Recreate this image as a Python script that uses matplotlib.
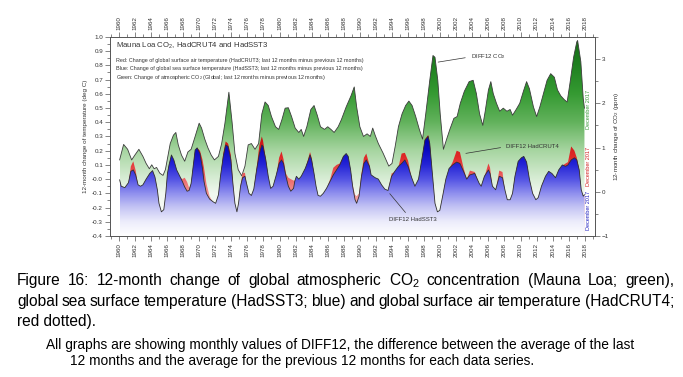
import numpy as np
import matplotlib
matplotlib.use('Agg')
import matplotlib.pyplot as plt
from matplotlib.colors import LinearSegmentedColormap
from matplotlib.ticker import MultipleLocator

plt.rcParams['font.family'] = ['Liberation Sans', 'DejaVu Sans']
plt.rcParams['mathtext.fontset'] = 'custom'
plt.rcParams['mathtext.rm'] = 'Liberation Sans'
plt.rcParams['mathtext.it'] = 'Liberation Sans:italic'

# DIFF12 CO2 (ppm, right axis)
co2_years = [1960.1, 1960.6, 1961.1, 1961.6, 1962.0, 1962.5, 1963.0, 1963.4, 1963.8, 1964.1,
             1964.4, 1964.7, 1965.1, 1965.5, 1965.8, 1966.1, 1966.4, 1966.8, 1967.1, 1967.4,
             1967.8, 1968.2, 1968.6, 1969.0, 1969.5, 1970.0, 1970.3, 1970.7, 1971.1, 1971.5,
             1971.9, 1972.4, 1972.8, 1973.2, 1973.7, 1974.1, 1974.45, 1974.86, 1975.3, 1975.7,
             1976.1, 1976.5, 1976.95, 1977.4, 1977.8, 1978.2, 1978.6, 1979.0, 1979.5, 1979.9,
             1980.3, 1980.7, 1981.1, 1981.5, 1981.95, 1982.4, 1982.7, 1983.0, 1983.4, 1983.9,
             1984.3, 1984.7, 1985.1, 1985.6, 1986.0, 1986.4, 1986.8, 1987.3, 1987.7, 1988.3,
             1988.9, 1989.3, 1989.6, 1990.0, 1990.45, 1990.9, 1991.3, 1991.6, 1991.9, 1992.3,
             1992.9, 1993.6, 1994.0, 1994.4, 1994.8, 1995.25, 1995.7, 1996.1, 1996.5, 1996.95,
             1997.4, 1997.8, 1998.2, 1998.7, 1999.1, 1999.35, 1999.7, 2000.0, 2000.4, 2000.8,
             2001.2, 2001.7, 2002.1, 2002.5, 2003.0, 2003.6, 2004.1, 2004.5, 2004.9, 2005.3,
             2005.6, 2006.0, 2006.3, 2006.6, 2007.0, 2007.4, 2007.85, 2008.3, 2008.7, 2009.0,
             2009.45, 2009.9, 2010.35, 2010.75, 2011.1, 2011.6, 2012.0, 2012.4, 2012.85, 2013.3,
             2013.75, 2014.2, 2014.6, 2015.0, 2015.45, 2015.8, 2016.2, 2016.6, 2017.0, 2017.1,
             2017.5, 2017.8, 2017.95]
co2_ppm = [0.72, 1.07, 0.96, 0.72, 0.83, 0.96, 0.80, 0.64, 0.52, 0.61,
           0.52, 0.55, 0.42, 0.37, 0.50, 0.80, 1.09, 1.28, 1.34, 1.06,
           0.83, 0.69, 0.90, 0.96, 1.25, 1.55, 1.44, 1.19, 0.99, 0.83,
           0.72, 0.80, 1.09, 1.54, 2.25, 1.57, 0.87, 0.50, 0.36, 0.58,
           1.06, 1.09, 0.96, 1.09, 1.76, 2.03, 1.95, 1.70, 1.47, 1.41,
           1.63, 1.89, 1.90, 1.70, 1.44, 1.34, 1.41, 1.25, 1.47, 1.86,
           1.95, 1.73, 1.47, 1.41, 1.47, 1.41, 1.34, 1.47, 1.63, 1.92,
           2.17, 2.37, 1.92, 1.47, 1.25, 1.31, 1.25, 1.44, 1.28, 1.09,
           0.87, 0.58, 0.64, 1.03, 1.47, 1.76, 1.95, 2.05, 1.95, 1.70,
           1.41, 1.19, 1.76, 2.52, 3.08, 3.04, 2.52, 1.76, 0.96, 1.19,
           1.41, 1.66, 1.70, 2.00, 2.27, 2.49, 2.52, 2.22, 1.76, 1.50,
           1.82, 2.30, 2.49, 2.22, 2.00, 1.82, 1.89, 1.82, 1.86, 1.73,
           1.86, 2.00, 2.27, 2.49, 2.33, 1.92, 1.70, 1.92, 2.22, 2.52,
           2.67, 2.59, 2.30, 2.17, 2.08, 2.03, 2.52, 3.04, 3.39, 3.42,
           2.94, 2.11, 1.89]

# DIFF12 HadSST3 and HadCRUT4 (deg C, left axis)
t_years = [1960.1, 1960.3, 1960.75, 1961.2, 1961.5, 1961.8, 1962.1, 1962.4, 1962.7, 1963.0,
           1963.4, 1963.85, 1964.2, 1964.5, 1964.8, 1965.0, 1965.3, 1965.6, 1965.85, 1966.05,
           1966.25, 1966.55, 1966.85, 1967.2, 1967.6, 1967.9, 1968.2, 1968.5, 1968.75, 1969.0,
           1969.25, 1969.5, 1969.75, 1970.1, 1970.4, 1970.6, 1970.9, 1971.3, 1971.75, 1972.05,
           1972.4, 1972.65, 1973.0, 1973.3, 1973.6, 1973.95, 1974.2, 1974.45, 1974.7, 1974.9,
           1975.15, 1975.4, 1975.7, 1975.9, 1976.2, 1976.5, 1976.8, 1977.15, 1977.5, 1977.8,
           1977.95, 1978.3, 1978.6, 1978.9, 1979.2, 1979.6, 1979.95, 1980.25, 1980.5, 1980.8,
           1981.1, 1981.4, 1981.75, 1981.9, 1982.1, 1982.4, 1982.7, 1983.2, 1983.6, 1983.8,
           1984.0, 1984.3, 1984.55, 1984.8, 1985.1, 1985.45, 1985.85, 1986.3, 1986.7, 1987.1,
           1987.5, 1987.95, 1988.3, 1988.55, 1988.85, 1989.1, 1989.4, 1989.6, 1989.9, 1990.2,
           1990.5, 1990.8, 1991.2, 1991.4, 1991.9, 1992.3, 1992.7, 1993.1, 1993.5, 1993.95,
           1994.35, 1994.8, 1995.2, 1995.6, 1996.0, 1996.45, 1996.85, 1997.3, 1997.7, 1998.1,
           1998.5, 1998.7, 1999.05, 1999.35, 1999.65, 1999.95, 2000.3, 2000.7, 2001.1, 2001.55,
           2002.05, 2002.45, 2002.9, 2003.3, 2003.7, 2004.3, 2004.85, 2005.1, 2005.5, 2006.0,
           2006.2, 2006.5, 2006.9, 2007.35, 2007.75, 2008.05, 2008.35, 2008.7, 2009.0, 2009.3,
           2009.7, 2010.1, 2010.4, 2010.75, 2011.1, 2011.5, 2011.9, 2012.2, 2012.6, 2013.1,
           2013.5, 2013.9, 2014.35, 2014.75, 2015.2, 2015.6, 2015.9, 2016.3, 2016.7, 2017.0,
           2017.3, 2017.55, 2017.8, 2017.95]
sst = [-0.005, -0.05, -0.06, -0.025, 0.055, 0.065, 0.03, -0.04, -0.05, -0.04,
       0.0, 0.04, 0.06, 0.015, -0.075, -0.17, -0.23, -0.215, -0.1, 0.04,
       0.10, 0.17, 0.135, 0.065, 0.02, -0.015, -0.055, -0.085, -0.08, -0.03,
       0.09, 0.205, 0.22, 0.18, 0.08, -0.015, -0.1, -0.14, -0.16, -0.17,
       -0.11, 0.02, 0.16, 0.24, 0.23, 0.135, -0.03, -0.17, -0.23, -0.17,
       -0.05, 0.01, 0.02, -0.03, -0.1, -0.115, -0.07, 0.065, 0.18, 0.24,
       0.23, 0.135, 0.02, -0.065, -0.05, 0.03, 0.11, 0.135, 0.11, 0.02,
       -0.05, -0.085, -0.065, -0.015, 0.02, 0.0, 0.02, 0.075, 0.135, 0.17,
       0.135, 0.04, -0.05, -0.115, -0.12, -0.1, -0.065, -0.015, 0.03, 0.065,
       0.1, 0.16, 0.18, 0.16, 0.065, -0.05, -0.145, -0.17, -0.12, 0.02,
       0.11, 0.135, 0.09, 0.03, 0.01, 0.0, -0.04, -0.07, -0.08, 0.02,
       0.055, 0.09, 0.11, 0.135, 0.09, 0.01, -0.05, 0.0, 0.135, 0.275,
       0.30, 0.25, 0.02, -0.17, -0.23, -0.22, -0.12, 0.0, 0.075, 0.1,
       0.12, 0.11, 0.055, 0.0, 0.03, 0.04, -0.03, -0.05, 0.02, 0.065,
       0.04, -0.05, -0.075, 0.02, 0.01, -0.075, -0.145, -0.145, -0.1, 0.02,
       0.125, 0.15, 0.16, 0.12, 0.0, -0.1, -0.145, -0.13, -0.05, 0.02,
       0.055, 0.04, 0.01, 0.065, 0.10, 0.09, 0.10, 0.135, 0.15, 0.135,
       0.065, -0.075, -0.12, -0.11]
hadcrut = [-0.01, -0.055, -0.065, -0.03, 0.09, 0.125, 0.06, -0.045, -0.055, -0.045,
           -0.005, 0.035, 0.055, 0.01, -0.08, -0.175, -0.235, -0.22, -0.105, 0.035,
           0.095, 0.165, 0.13, 0.06, 0.015, 0.0, 0.01, -0.02, -0.06, -0.035,
           0.085, 0.2, 0.22, 0.2, 0.14, 0.08, -0.03, -0.12, -0.165, -0.175,
           -0.115, 0.015, 0.18, 0.265, 0.25, 0.17, -0.02, -0.175, -0.235, -0.175,
           -0.04, 0.04, 0.045, -0.035, -0.105, -0.12, -0.075, 0.08, 0.24, 0.30,
           0.27, 0.14, 0.015, -0.07, -0.055, 0.025, 0.15, 0.195, 0.14, 0.04,
           0.01, 0.0, -0.01, -0.01, 0.015, -0.005, 0.015, 0.07, 0.15, 0.19,
           0.15, 0.035, -0.055, -0.12, -0.125, -0.105, -0.07, 0.0, 0.08, 0.1,
           0.11, 0.16, 0.175, 0.155, 0.06, -0.04, -0.11, -0.12, -0.1, 0.04,
           0.15, 0.18, 0.1, 0.025, 0.005, -0.005, -0.045, -0.075, -0.085, 0.04,
           0.05, 0.085, 0.18, 0.185, 0.13, 0.005, -0.055, -0.005, 0.13, 0.28,
           0.31, 0.26, 0.015, -0.175, -0.235, -0.225, -0.125, -0.005, 0.07, 0.12,
           0.2, 0.19, 0.08, 0.0, 0.06, 0.05, -0.035, -0.055, 0.015, 0.11,
           0.08, -0.055, -0.08, 0.06, 0.05, -0.08, -0.15, -0.15, -0.105, 0.015,
           0.12, 0.145, 0.155, 0.115, -0.005, -0.105, -0.15, -0.135, -0.055, 0.015,
           0.05, 0.035, 0.005, 0.06, 0.095, 0.11, 0.12, 0.23, 0.2, 0.15,
           0.065, -0.08, -0.125, -0.115]

caption1 = ["Figure 16: 12-month change of global atmospheric CO$_2$ concentration (Mauna Loa; green),",
            "global sea surface temperature (HadSST3; blue) and global surface air temperature (HadCRUT4;",
            "red dotted)."]
caption2 = ["All graphs are showing monthly values of DIFF12, the difference between the average of the last",
            "12 months and the average for the previous 12 months for each data series."]

green_cmap = LinearSegmentedColormap.from_list('g', [
    (0.0, '#ffffff'), (0.214, '#f1f8ef'), (0.286, '#d8edd5'), (0.429, '#a6d5a0'),
    (0.571, '#62b25c'), (0.714, '#359a32'), (0.857, '#1f8020'), (1.0, '#156815')])
blue_cmap = LinearSegmentedColormap.from_list('b', [
    (0.0, '#ffffff'), (0.071, '#ececfb'), (0.143, '#c4c4f4'), (0.214, '#8e8eee'),
    (0.286, '#5252e4'), (0.357, '#2424d6'), (0.429, '#0a0ac2'), (0.5, '#0000a8'), (1.0, '#000080')])
red_cmap = LinearSegmentedColormap.from_list('r', [
    (0.0, '#fde8e8'), (0.143, '#f7b0b0'), (0.25, '#f08080'), (0.321, '#e85050'),
    (0.393, '#e02a2a'), (0.5, '#c81010'), (1.0, '#a00000')])


def grad_fill(a, x, y, base, cmap, lo, hi, z):
    poly = a.fill_between(x, y, base, facecolor='none', lw=0, zorder=z)
    img = a.imshow(np.linspace(0, 1, 256).reshape(-1, 1), cmap=cmap, origin='lower',
                   aspect='auto', extent=[x[0], x[-1], lo, hi], zorder=z,
                   interpolation='bilinear')
    img.set_clip_path(poly.get_paths()[0], a.transData)


fig = plt.figure(figsize=(6.83, 3.77), dpi=100)
ax = fig.add_axes([0.161, 0.374, 0.710, 0.528])
ax2 = ax.twinx()
ax.set_zorder(2)
ax.patch.set_visible(False)

grad_fill(ax2, co2_years, co2_ppm, -1.0, green_cmap, -1.0, 3.5, 1)
ax2.plot(co2_years, co2_ppm, color='#3c3c3c', lw=0.6, zorder=3)
grad_fill(ax, t_years, hadcrut, -0.4, red_cmap, -0.4, 1.0, 1)
grad_fill(ax, t_years, sst, -0.4, blue_cmap, -0.4, 1.0, 2)
ax.plot(t_years, sst, color='#303030', lw=0.6, zorder=3)

ax.set_xlim(1958.9, 2019.25)
ax.set_ylim(-0.4, 1.0)
ax2.set_ylim(-1.0, 3.5)

ax.xaxis.set_major_locator(MultipleLocator(2))
ax.xaxis.set_minor_locator(MultipleLocator(1))
ax.yaxis.set_major_locator(MultipleLocator(0.1))
ax.yaxis.set_minor_locator(MultipleLocator(0.05))
ax2.yaxis.set_major_locator(MultipleLocator(1))
ax2.yaxis.set_minor_locator(MultipleLocator(0.5))
ax.set_xticks(range(1960, 2019, 2))
ax.set_yticks(np.round(np.arange(-0.4, 1.01, 0.1), 1))
ax.set_yticklabels(['%.1f' % v for v in np.arange(-0.4, 1.01, 0.1)])

for a in (ax, ax2):
    for s in a.spines.values():
        s.set_color('#555555')
        s.set_linewidth(0.6)
    a.tick_params(which='major', length=3.5, width=0.5, color='#555555',
                  labelsize=4.5, labelcolor='#333333', pad=1.5)
    a.tick_params(which='minor', length=2, width=0.5, color='#555555')
ax.tick_params(axis='x', which='both', top=True, labeltop=True, labelrotation=90)

ax.set_ylabel('12-month change of temperature (deg C)', fontsize=4.5, color='#333333', labelpad=3)
ax2.set_ylabel('12-month change of CO$_2$ (ppm)', fontsize=4.5, color='#333333', labelpad=2)

ax.text(0.013, 0.955, 'Mauna Loa CO$_2$, HadCRUT4 and HadSST3', transform=ax.transAxes,
        fontsize=5.6, color='#333333', va='center')
legend_lines = ['Red: Change of global surface air temperature (HadCRUT3; last 12 months minus previous 12 months)',
                'Blue: Change of global sea surface temperature (HadSST3; last 12 months minus previous 12 months)',
                'Green: Change of atmospheric CO$_2$ (Global; last 12 months minus previous 12 months)']
for i, line in enumerate(legend_lines):
    ax.text(0.013, 0.884 - 0.043 * i, line, transform=ax.transAxes, fontsize=3.9,
            color='#333333', va='center')

ax.annotate('DIFF12 CO$_2$', xy=(1999.4, 0.82), xytext=(2003.8, 0.86), fontsize=4.3,
            color='#333333', va='center', ha='left',
            arrowprops=dict(arrowstyle='-', lw=0.5, color='#333333', relpos=(0, 0.5)))
ax.annotate('DIFF12 HadCRUT4', xy=(2002.85, 0.178), xytext=(2008.2, 0.228), fontsize=4.3,
            color='#333333', va='center', ha='left', zorder=5,
            arrowprops=dict(arrowstyle='-', lw=0.5, color='#333333', relpos=(0, 0.5)))
ax.annotate('DIFF12 HadSST3', xy=(1993.5, -0.087), xytext=(1996.6, -0.287), fontsize=4.3,
            color='#333333', va='center', ha='center', zorder=5,
            arrowprops=dict(arrowstyle='-', lw=0.5, color='#333333', relpos=(0.43, 1)))

ax.text(2018.4, 0.488, 'December 2017', rotation=90, fontsize=4.0, color='#3a9a3a',
        ha='center', va='center', zorder=5)
ax.text(2018.4, 0.09, 'December 2017', rotation=90, fontsize=4.0, color='#d02020',
        ha='center', va='center', zorder=5)
ax.text(2018.4, -0.218, 'December 2017', rotation=90, fontsize=4.0, color='#2020c0',
        ha='center', va='center', zorder=5)


def justify(line, y, x0, x1, size):
    words = line.split(' ')
    ts = [fig.text(x0, y, w, fontsize=size, va='baseline') for w in words]
    r = fig.canvas.get_renderer()
    ws = [t.get_window_extent(r).width / fig.bbox.width for t in ts]
    gap = (x1 - x0 - sum(ws)) / (len(ws) - 1)
    pos = x0
    for t, w in zip(ts, ws):
        t.set_x(pos)
        pos += w + gap


justify(caption1[0], 1 - 285 / 377, 17 / 683, 674 / 683, 11.2)
justify(caption1[1], 1 - 306 / 377, 17 / 683, 674 / 683, 11.2)
fig.text(17 / 683, 1 - 326 / 377, caption1[2], fontsize=11.2, va='baseline')
fig.text(46 / 683, 1 - 349 / 377, caption2[0], fontsize=9.9, va='baseline')
fig.text(70 / 683, 1 - 365 / 377, caption2[1], fontsize=9.9, va='baseline')

fig.savefig('out.png', dpi=100)
